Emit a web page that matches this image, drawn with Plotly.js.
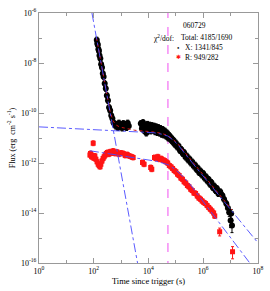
<!DOCTYPE html>
<html><head><meta charset="utf-8">
<script src="https://cdn.plot.ly/plotly-3.0.1.min.js"></script>
<style>html,body{margin:0;padding:0;background:#fff;}#plot{width:270px;height:291px;}</style>
</head><body><div id="plot"></div>
<script>
// X-ray (black) data: time since trigger (s), flux (erg cm^-2 s^-1), fractional error
const xTime = [129,135,141,148,155,162,174,186,200,214,229,251,275,302,331,363,398,437,479,525,575,631,
  692,759,832,912,1000,1096,1202,1318,1445,1585,1738,1905,
  5248,5754,6310,6918,7586,8318,9120,10000,10965,12023,13183,14454,15849,17378,19055,20893,22909,25119,27542,30200,33113,36308,39811,43652,47863,52481,57544,63096,69183,75858,83176,91201,
  1.0e5,1.122e5,1.259e5,1.413e5,1.585e5,1.778e5,1.995e5,2.239e5,2.512e5,2.818e5,3.162e5,3.548e5,3.981e5,4.467e5,5.012e5,5.623e5,6.31e5,7.079e5,7.943e5,8.913e5,
  1.0e6,1.122e6,1.259e6,1.413e6,1.585e6,1.778e6,1.995e6,2.239e6,2.512e6,2.818e6,3.162e6,3.548e6,4.169e6,5.012e6,5.754e6,6.918e6,7.943e6,8.913e6,1.0e7,1.047e7,1.122e7];
const xFlux = [8.32e-8,6.03e-8,5.25e-8,3.55e-8,3.02e-8,2.0e-8,1.51e-8,8.91e-9,6.61e-9,3.80e-9,2.82e-9,1.51e-9,9.55e-10,5.01e-10,3.16e-10,1.66e-10,1.26e-10,7.94e-11,6.03e-11,4.17e-11,3.55e-11,3.02e-11,
  3.55e-11,2.63e-11,3.98e-11,2.82e-11,3.31e-11,2.51e-11,3.80e-11,2.82e-11,3.55e-11,2.63e-11,3.98e-11,3.02e-11,
  3.80e-11,2.40e-11,4.17e-11,2.0e-11,3.16e-11,1.58e-11,3.55e-11,2.24e-11,3.31e-11,1.91e-11,3.16e-11,2.09e-11,3.02e-11,1.78e-11,2.82e-11,1.66e-11,2.63e-11,1.58e-11,2.40e-11,1.41e-11,2.19e-11,1.32e-11,1.91e-11,1.20e-11,1.58e-11,1.0e-11,1.26e-11,8.91e-12,1.0e-11,7.08e-12,7.94e-12,5.62e-12,
  6.31e-12,4.37e-12,4.79e-12,3.16e-12,3.47e-12,2.40e-12,2.63e-12,1.74e-12,1.91e-12,1.32e-12,1.45e-12,1.0e-12,1.10e-12,7.59e-13,8.32e-13,5.62e-13,6.31e-13,4.17e-13,4.79e-13,3.31e-13,
  3.80e-13,2.51e-13,2.82e-13,1.91e-13,2.19e-13,1.41e-13,1.66e-13,1.05e-13,1.20e-13,7.94e-14,9.55e-14,6.03e-14,7.08e-14,5.01e-14,3.55e-14,2.40e-14,1.58e-14,1.05e-14,5.01e-15,9.55e-15,3.16e-15];
const xErrFrac = xTime.map((t,i)=> i>=xTime.length-5 ? [0.4,0.4,0.6,0.45,0.6][i-(xTime.length-5)] : 0.3);

// Optical R (red) data
const rTime = [72.4,75.9,83.2,91.2,95.5,100,110,120,132,145,158,170,182,200,219,240,263,288,316,355,398,447,513,603,708,832,1000,1202,1413,1660,1995,2399,2754,
  6026,6918,12023,13183,16596,19055,21878,25119,28840,33113,38019,43652,50119,57544,66069,75858,87096,
  1.0e5,1.148e5,1.318e5,1.514e5,1.738e5,1.995e5,2.291e5,2.630e5,3.020e5,3.467e5,3.981e5,4.571e5,5.248e5,6.026e5,6.918e5,7.943e5,9.120e5,
  1.047e6,1.202e6,1.380e6,1.585e6,1.820e6,2.089e6,2.399e6,2.630e6,3.981e6,1.175e7];
const rFlux = [2.09e-12,2.40e-12,1.78e-12,2.0e-12,6.17e-12,1.58e-12,1.91e-12,1.41e-12,1.12e-12,8.91e-13,7.94e-13,7.08e-13,8.91e-13,1.20e-12,1.51e-12,1.78e-12,2.09e-12,2.40e-12,2.63e-12,2.24e-12,2.82e-12,2.51e-12,3.02e-12,2.40e-12,2.75e-12,2.24e-12,2.51e-12,2.40e-12,2.0e-12,2.19e-12,1.91e-12,1.78e-12,1.66e-12,
  1.05e-12,8.91e-13,6.61e-13,5.62e-13,1.66e-12,1.51e-12,1.78e-12,1.41e-12,1.51e-12,1.32e-12,1.26e-12,1.12e-12,1.0e-12,7.94e-13,7.08e-13,6.03e-13,5.01e-13,
  4.47e-13,3.55e-13,3.16e-13,2.51e-13,2.24e-13,1.78e-13,1.58e-13,1.26e-13,1.12e-13,8.91e-14,7.94e-14,6.31e-14,6.03e-14,4.79e-14,3.98e-14,3.55e-14,3.02e-14,
  2.63e-14,2.40e-14,2.0e-14,1.66e-14,1.41e-14,1.20e-14,1.0e-14,7.59e-15,1.78e-15,2.82e-16];
const rErrFrac = rTime.map((t,i)=> i===rTime.length-1 ? 0.6 : (i===rTime.length-2 ? 0.4 : 0.25));

// Model components (knots)
const steepT = [85.9, 3981];
const steepF = [1e-6, 1e-16];
const xModelT = [1, 3162, 15849, 31623, 50119, 79433, 125893, 199526, 398107, 1.259e8];
const xModelF = [2.79e-11, 1.86e-11, 1.62e-11, 1.41e-11, 1.20e-11, 8.32e-12, 5.01e-12, 2.63e-12, 1.02e-12, 4.68e-16];
const xTotalT = [126, 200, 316, 398, 501, 631, 891, 3162, 15849, 31623, 50119, 79433, 125893, 199526, 398107, 1.122e7];
const xTotalF = [1e-7, 6.31e-9, 3.98e-10, 1.12e-10, 5.01e-11, 3.39e-11, 2.75e-11, 2.04e-11, 1.74e-11, 1.51e-11, 1.26e-11, 8.91e-12, 5.37e-12, 2.88e-12, 1.17e-12, 1.32e-14];
const rModelT = [72.4, 3162, 19953, 52481, 93325, 158489, 323594, 5.012e7];
const rModelF = [3.09e-12, 1.62e-12, 1.17e-12, 8.51e-13, 5.62e-13, 3.31e-13, 1.45e-13, 1e-16];
const breakTime = [51286, 51286];
const breakFlux = [1e-17, 1e-5];

// Axis ticks
const majorVals = [1, 1e2, 1e4, 1e6, 1e8];
const majorText = ['10<sup>0</sup>','10<sup>2</sup>','10<sup>4</sup>','10<sup>6</sup>','10<sup>8</sup>'];
const minorX = [10, 1e3, 1e5, 1e7];
const yMajorVals = [1e-16, 1e-14, 1e-12, 1e-10, 1e-8, 1e-6];
const yMajorText = ['10<sup>-16</sup>','10<sup>-14</sup>','10<sup>-12</sup>','10<sup>-10</sup>','10<sup>-8</sup>','10<sup>-6</sup>'];
const yMinor = [1e-15, 1e-13, 1e-11, 1e-9, 1e-7];

const FONT = 'Liberation Serif, Times New Roman, serif';
const BLUE = '#4848ff';

const traces = [
  {x: breakTime, y: breakFlux, mode: 'lines', line: {color: '#f050f0', width: 1, dash: 'dash'}, hoverinfo: 'skip'},
  {x: rTime, y: rFlux, mode: 'markers', marker: {symbol: 'square', size: 5, color: '#ff1414'},
   error_y: {type: 'data', symmetric: false, array: rFlux.map((f,i)=>f*rErrFrac[i]), arrayminus: rFlux.map((f,i)=>f*rErrFrac[i]*0.8), color: '#ff1414', thickness: 1, width: 1.5}},
  {x: xTime, y: xFlux, mode: 'markers', marker: {symbol: 'circle', size: 6, color: '#000'},
   error_y: {type: 'data', symmetric: false, array: xFlux.map((f,i)=>f*xErrFrac[i]), arrayminus: xFlux.map((f,i)=>f*xErrFrac[i]*0.8), color: '#000', thickness: 1, width: 1.5}},
  {x: xTotalT, y: xTotalF, mode: 'lines', line: {color: '#cc1010', width: 1, dash: 'dot'}},
  {x: steepT, y: steepF, mode: 'lines', line: {color: BLUE, width: 0.9, dash: 'dashdot'}},
  {x: xModelT, y: xModelF, mode: 'lines', line: {color: BLUE, width: 0.9, dash: 'dashdot'}},
  {x: rModelT, y: rModelF, mode: 'lines', line: {color: BLUE, width: 0.9, dash: 'dashdot'}}
];

const axisCommon = {
  type: 'log', showgrid: false, zeroline: false, showline: true, linecolor: '#999', linewidth: 1,
  mirror: 'allticks', ticks: 'inside', ticklen: 5, tickcolor: '#999', tickwidth: 1,
  tickfont: {family: FONT, size: 8, color: '#000'}
};

const layout = {
  width: 270, height: 291,
  margin: {l: 39, r: 12, t: 13, b: 28},
  paper_bgcolor: '#fff', plot_bgcolor: '#fff',
  showlegend: false,
  font: {family: FONT, size: 8, color: '#000'},
  xaxis: Object.assign({}, axisCommon, {
    range: [0, 8], tickmode: 'array', tickvals: majorVals, ticktext: majorText,
    minor: {tickmode: 'array', tickvals: minorX, ticks: 'inside', ticklen: 3, tickcolor: '#999'},
    title: {text: 'Time since trigger (s)', font: {family: FONT, size: 8.5}, standoff: 2}
  }),
  yaxis: Object.assign({}, axisCommon, {
    range: [-16, -6], tickmode: 'array', tickvals: yMajorVals, ticktext: yMajorText,
    minor: {tickmode: 'array', tickvals: yMinor, ticks: 'inside', ticklen: 3, tickcolor: '#999'},
    title: {text: 'Flux (erg  cm<sup>-2</sup> s<sup>-1</sup>)', font: {family: FONT, size: 8}, standoff: 4}
  }),
  annotations: [
    {xref: 'paper', yref: 'paper', x: 0.712, y: 0.952, text: '060729', showarrow: false, xanchor: 'center', yanchor: 'middle', font: {size: 7.5}},
    {xref: 'paper', yref: 'paper', x: 0.516, y: 0.9, text: 'χ<sup>2</sup>/dof:', showarrow: false, xanchor: 'left', yanchor: 'middle', font: {size: 7.5}},
    {xref: 'paper', yref: 'paper', x: 0.639, y: 0.9, text: 'Total: 4185/1690', showarrow: false, xanchor: 'left', yanchor: 'middle', font: {size: 7.5}},
    {xref: 'paper', yref: 'paper', x: 0.637, y: 0.864, text: '●', showarrow: false, xanchor: 'center', yanchor: 'middle', font: {size: 4, color: '#000'}},
    {xref: 'paper', yref: 'paper', x: 0.658, y: 0.864, text: 'X: 1341/845', showarrow: false, xanchor: 'left', yanchor: 'middle', font: {size: 7.5}},
    {xref: 'paper', yref: 'paper', x: 0.637, y: 0.824, text: '✱', showarrow: false, xanchor: 'center', yanchor: 'middle', font: {size: 6, color: '#ff1414'}},
    {xref: 'paper', yref: 'paper', x: 0.658, y: 0.824, text: 'R: 949/282', showarrow: false, xanchor: 'left', yanchor: 'middle', font: {size: 7.5}}
  ]
};

Plotly.newPlot('plot', traces, layout, {staticPlot: true, displayModeBar: false});
</script>
</body></html>
